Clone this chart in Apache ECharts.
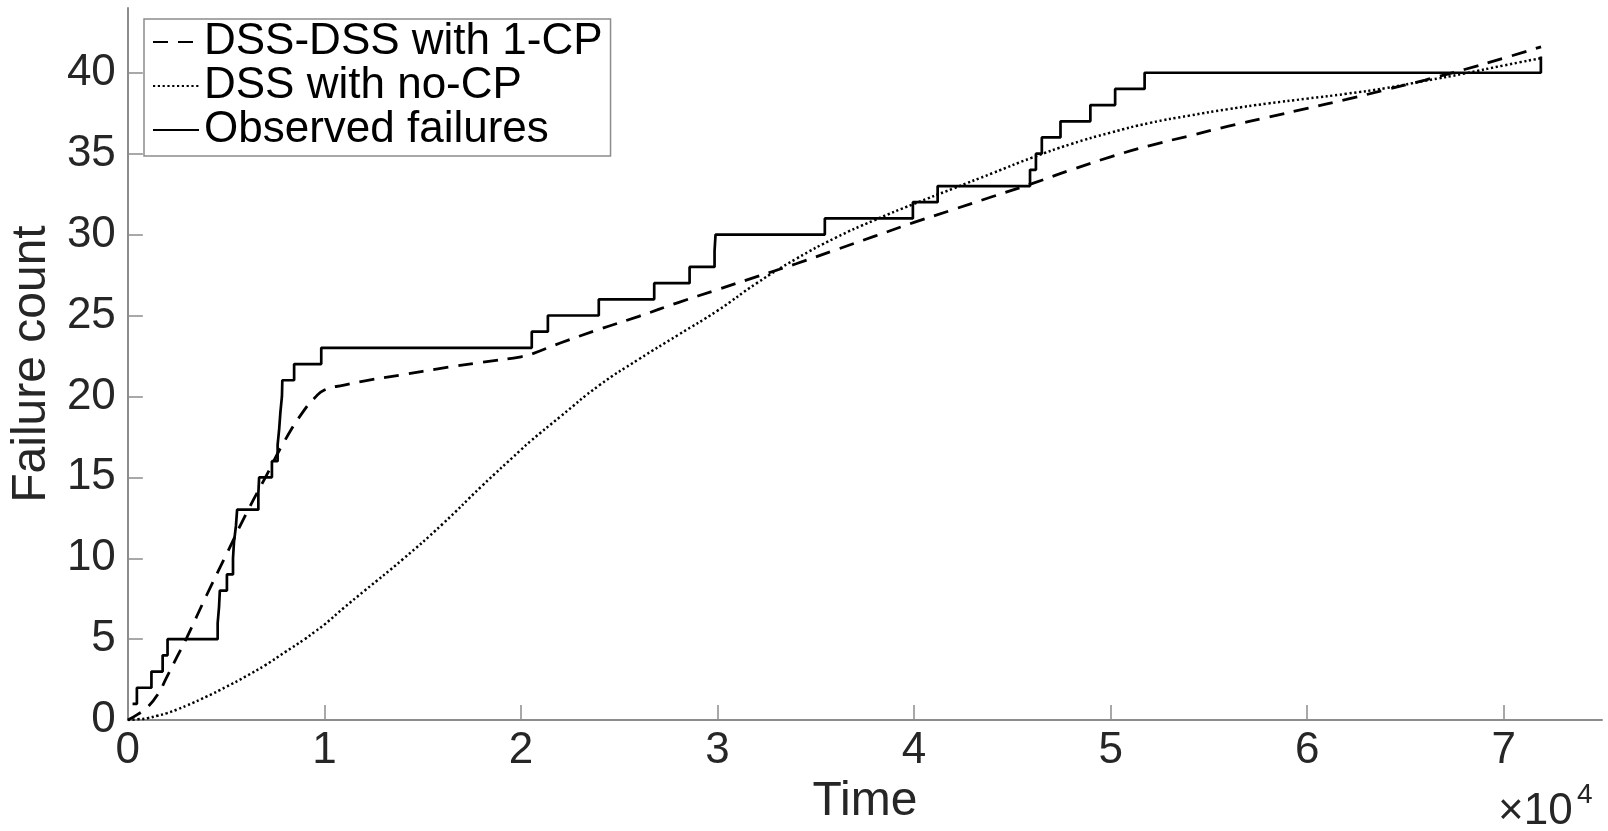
<!DOCTYPE html>
<html>
<head>
<meta charset="utf-8">
<script src="https://cdn.jsdelivr.net/npm/echarts@6/dist/echarts.min.js"></script>
<style>
html,body{margin:0;padding:0;background:#fff;}
#chart{width:1608px;height:831px;}
</style>
</head>
<body>
<div id="chart"></div>
<script>
// ---- data ----
const seriesNames = ['DSS-DSS with 1-CP', 'DSS with no-CP', 'Observed failures'];
const xTicks = [0, 10000, 20000, 30000, 40000, 50000, 60000, 70000];
const yTicks = [0, 5, 10, 15, 20, 25, 30, 35, 40];

const obsTime  = [240, 460, 1200, 1770, 2020, 4570, 4640, 4680, 5040, 5350, 5400, 5500, 5560, 6640, 6680, 7330, 7620, 7700, 7760, 7840, 7860, 8460, 9840, 20550, 21370, 23960, 26780, 28580, 29850, 29900, 35460, 39940, 41200, 45900, 46200, 46500, 47450, 48970, 50230, 51730, 71890];
const obsCount = [1, 2, 3, 4, 5, 6, 7, 8, 9, 10, 11, 12, 13, 14, 15, 16, 17, 18, 19, 20, 21, 22, 23, 24, 25, 26, 27, 28, 29, 30, 31, 32, 33, 34, 35, 36, 37, 38, 39, 40, 41];

const modelTime = [0, 500, 1000, 1500, 2000, 2500, 3000, 4000, 5000, 6000, 7000, 8000, 9000, 9500, 10000, 11000, 12000, 14000, 16000, 18000, 20000, 20500, 22000, 24000, 26000, 28000, 30000, 32000, 34000, 36000, 38000, 40000, 42000, 44000, 46000, 48000, 50000, 52000, 54000, 56000, 58000, 60000, 62000, 64000, 66000, 68000, 70000, 71900];
const cpCount = [0, 0.35, 0.8, 1.55, 2.7, 3.9, 5.1, 7.7, 10.2, 12.7, 15.0, 17.3, 19.2, 19.9, 20.4, 20.7, 20.95, 21.35, 21.75, 22.1, 22.45, 22.6, 23.3, 24.15, 24.95, 25.8, 26.6, 27.4, 28.2, 29.05, 29.9, 30.75, 31.55, 32.35, 33.15, 34.0, 34.8, 35.5, 36.1, 36.7, 37.25, 37.8, 38.35, 38.95, 39.55, 40.2, 40.9, 41.6];
const noCpCount = [0, 0.05, 0.12, 0.27, 0.43, 0.65, 0.9, 1.45, 2.05, 2.7, 3.4, 4.2, 5.0, 5.45, 5.9, 6.95, 7.95, 9.95, 12.1, 14.45, 16.7, 17.25, 18.75, 20.7, 22.3, 23.8, 25.3, 27.0, 28.5, 29.8, 30.9, 31.9, 32.85, 33.8, 34.75, 35.6, 36.3, 36.9, 37.35, 37.75, 38.1, 38.4, 38.7, 39.05, 39.5, 39.95, 40.45, 40.9];

// ---- build ----
const pairs = (xs, ys) => xs.map((x, i) => [x, ys[i]]);
const FONT = '"Liberation Sans", Arial, Helvetica, sans-serif';
const AX = '#8c8c8c';

const chart = echarts.init(document.getElementById('chart'), null, {renderer: 'canvas'});
chart.setOption({
  animation: false,
  backgroundColor: '#fff',
  grid: {left: 127, right: 6, top: 8, bottom: 109, containLabel: false},
  xAxis: {
    type: 'value', min: 0, max: 75000,
    name: 'Time', nameLocation: 'middle', nameGap: 54,
    nameTextStyle: {fontFamily: FONT, fontSize: 48, color: '#262626'},
    axisLine: {show: true, onZero: false, lineStyle: {color: AX, width: 2}},
    axisTick: {show: true, inside: true, length: 15, customValues: xTicks, lineStyle: {color: AX, width: 1.5}},
    axisLabel: {customValues: xTicks, margin: 9, fontFamily: FONT, fontSize: 44, color: '#262626',
      formatter: v => String(v / 10000)},
    splitLine: {show: false}
  },
  yAxis: {
    type: 'value', min: 0, max: 44,
    name: 'Failure count', nameLocation: 'middle', nameGap: 70, nameRotate: 90,
    nameTextStyle: {fontFamily: FONT, fontSize: 48, color: '#262626'},
    axisLine: {show: true, onZero: false, lineStyle: {color: AX, width: 2}},
    axisTick: {show: true, inside: true, length: 15, customValues: yTicks, lineStyle: {color: AX, width: 1.5}},
    axisLabel: {customValues: yTicks, margin: 12, fontFamily: FONT, fontSize: 44, color: '#262626'},
    splitLine: {show: false}
  },
  legend: {
    orient: 'vertical', left: 144, top: 19,
    padding: [1, 8, 4, 8],
    itemGap: 0, itemWidth: 46, itemHeight: 14,
    itemStyle: {opacity: 0},
    borderColor: AX, borderWidth: 1.5, backgroundColor: '#fff',
    textStyle: {fontFamily: FONT, fontSize: 44, color: '#000', lineHeight: 40},
    data: seriesNames
  },
  graphic: [
    {type: 'text', left: 1498, top: 790, z: 100,
      style: {text: '\u00d710', font: '44px ' + FONT, fill: '#262626'}},
    {type: 'text', left: 1577, top: 781, z: 100,
      style: {text: '4', font: '28px ' + FONT, fill: '#262626'}}
  ],
  series: [
    {name: seriesNames[0], type: 'line', data: pairs(modelTime, cpCount),
      showSymbol: false, symbol: 'none', smooth: 0.5,
      lineStyle: {color: '#000', width: 2.8, type: [15, 10]}, itemStyle: {color: '#000'}},
    {name: seriesNames[1], type: 'line', data: pairs(modelTime, noCpCount),
      showSymbol: false, symbol: 'none', smooth: 0.5,
      lineStyle: {color: '#000', width: 2.5, type: [2.2, 2.6]}, itemStyle: {color: '#000'}},
    {name: seriesNames[2], type: 'line', data: pairs(obsTime, obsCount), step: 'end',
      showSymbol: false, symbol: 'none',
      lineStyle: {color: '#000', width: 2.7, type: 'solid'}, itemStyle: {color: '#000'}}
  ]
});
</script>
</body>
</html>
